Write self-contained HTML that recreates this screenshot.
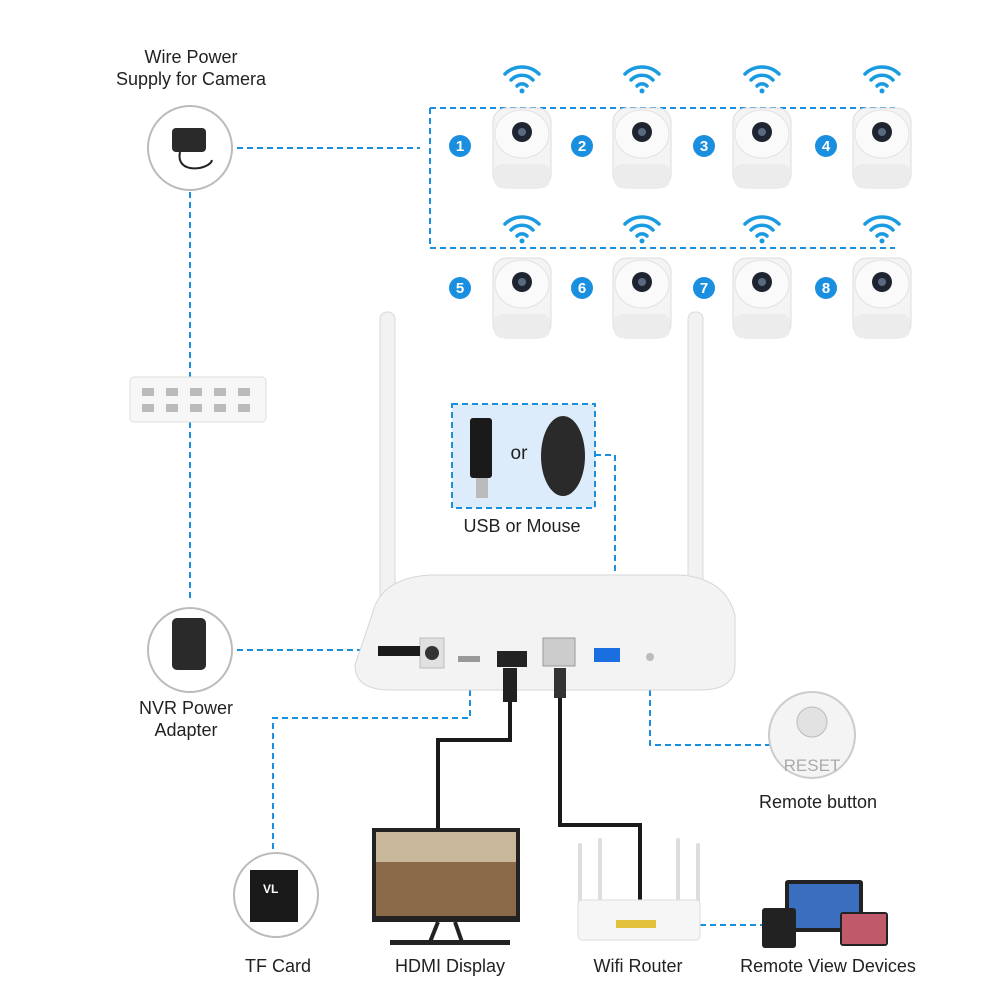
<!DOCTYPE html>
<html><head><meta charset="utf-8"><style>
html,body{margin:0;padding:0;background:#fff}
svg{display:block}
text{font-family:"Liberation Sans",sans-serif;fill:#222}
</style></head><body>
<svg width="1000" height="1000" viewBox="0 0 1000 1000" xmlns="http://www.w3.org/2000/svg">
<defs>
<g id="cam">
  <rect x="-29" y="-38" width="58" height="80" rx="14" fill="#f4f4f4" stroke="#ddd"/>
  <ellipse cx="0" cy="-12" rx="27" ry="24" fill="#fafafa" stroke="#e2e2e2"/>
  <circle cx="0" cy="-14" r="10" fill="#1e2530"/>
  <circle cx="0" cy="-14" r="4" fill="#5a6a80"/>
  <rect x="-28" y="18" width="56" height="24" rx="8" fill="#ececec"/>
</g>
<g id="wifi" fill="none" stroke="#1a9ae0" stroke-width="3.5" stroke-linecap="round">
  <path d="M-17,-6 A24,24 0 0 1 17,-6"/>
  <path d="M-11,0 A15,15 0 0 1 11,0"/>
  <path d="M-5,6 A7,7 0 0 1 5,6"/>
  <circle cx="0" cy="11" r="2.5" fill="#1a9ae0" stroke="none"/>
</g>
</defs>
<g fill="none" stroke="#1a8fe0" stroke-width="2" stroke-dasharray="6,4">
  <path d="M237,148 H420"/>
  <path d="M190,192 V600"/>
  <path d="M430,108 H895 M430,108 V248 H895"/>
  <path d="M237,650 H400"/>
  <path d="M470,690 V718 H273 V850"/>
  <path d="M595,455 H615 V650"/>
  <path d="M650,670 V745 H770"/>
  <path d="M690,925 H762"/>
</g>
<text x="191" y="63" font-size="18" text-anchor="middle">Wire Power</text>
<text x="191" y="85" font-size="18" text-anchor="middle">Supply for Camera</text>
<circle cx="190" cy="148" r="42" fill="#fff" stroke="#bbb" stroke-width="2"/>
<rect x="172" y="128" width="34" height="24" rx="4" fill="#2a2a2a"/>
<path d="M180,152 C175,175 210,170 212,160" stroke="#222" fill="none" stroke-width="2"/>
<!-- cameras -->
<g>
<use href="#wifi" x="522" y="80"/><use href="#wifi" x="642" y="80"/><use href="#wifi" x="762" y="80"/><use href="#wifi" x="882" y="80"/>
<use href="#wifi" x="522" y="230"/><use href="#wifi" x="642" y="230"/><use href="#wifi" x="762" y="230"/><use href="#wifi" x="882" y="230"/>
<use href="#cam" x="522" y="146"/><use href="#cam" x="642" y="146"/><use href="#cam" x="762" y="146"/><use href="#cam" x="882" y="146"/>
<use href="#cam" x="522" y="296"/><use href="#cam" x="642" y="296"/><use href="#cam" x="762" y="296"/><use href="#cam" x="882" y="296"/>
</g>
<g font-size="15" font-weight="bold" text-anchor="middle">
<circle cx="460" cy="146" r="11" fill="#1a8fe0"/><text x="460" y="151" fill="#fff" style="fill:#fff">1</text>
<circle cx="582" cy="146" r="11" fill="#1a8fe0"/><text x="582" y="151" style="fill:#fff">2</text>
<circle cx="704" cy="146" r="11" fill="#1a8fe0"/><text x="704" y="151" style="fill:#fff">3</text>
<circle cx="826" cy="146" r="11" fill="#1a8fe0"/><text x="826" y="151" style="fill:#fff">4</text>
<circle cx="460" cy="288" r="11" fill="#1a8fe0"/><text x="460" y="293" style="fill:#fff">5</text>
<circle cx="582" cy="288" r="11" fill="#1a8fe0"/><text x="582" y="293" style="fill:#fff">6</text>
<circle cx="704" cy="288" r="11" fill="#1a8fe0"/><text x="704" y="293" style="fill:#fff">7</text>
<circle cx="826" cy="288" r="11" fill="#1a8fe0"/><text x="826" y="293" style="fill:#fff">8</text>
</g>
<!-- power strip -->
<rect x="130" y="377" width="136" height="45" rx="4" fill="#f7f7f7" stroke="#ddd"/>
<g fill="#bbb"><rect x="142" y="388" width="12" height="8"/><rect x="166" y="388" width="12" height="8"/><rect x="190" y="388" width="12" height="8"/><rect x="214" y="388" width="12" height="8"/><rect x="238" y="388" width="12" height="8"/>
<rect x="142" y="404" width="12" height="8"/><rect x="166" y="404" width="12" height="8"/><rect x="190" y="404" width="12" height="8"/><rect x="214" y="404" width="12" height="8"/><rect x="238" y="404" width="12" height="8"/></g>
<!-- antennas -->
<rect x="380" y="312" width="15" height="330" rx="7" fill="#f2f2f2" stroke="#d8d8d8"/>
<rect x="688" y="312" width="15" height="330" rx="7" fill="#f2f2f2" stroke="#d8d8d8"/>
<!-- usb box -->
<rect x="452" y="404" width="143" height="104" fill="#dcecfb" stroke="#1a8fe0" stroke-width="2" stroke-dasharray="6,4"/>
<rect x="470" y="418" width="22" height="60" rx="3" fill="#1a1a1a"/>
<rect x="476" y="478" width="12" height="20" fill="#bbb"/>
<text x="519" y="459" font-size="19" text-anchor="middle">or</text>
<ellipse cx="563" cy="456" rx="22" ry="40" fill="#2a2a2a"/>
<text x="522" y="532" font-size="18" text-anchor="middle">USB or Mouse</text>
<!-- NVR -->
<path d="M372,615 Q380,578 430,575 H680 Q725,578 735,615 V665 Q735,690 700,690 H390 Q355,690 355,665 Z" fill="#f3f3f3" stroke="#d6d6d6"/>
<rect x="420" y="638" width="24" height="30" fill="#e0e0e0" stroke="#bbb"/><circle cx="432" cy="653" r="7" fill="#333"/>
<rect x="378" y="646" width="42" height="10" fill="#1a1a1a"/>
<rect x="458" y="656" width="22" height="6" fill="#999"/>
<rect x="497" y="651" width="30" height="16" fill="#222"/>
<rect x="543" y="638" width="32" height="28" fill="#ccc" stroke="#999"/>
<rect x="594" y="648" width="26" height="14" fill="#1a6fe0"/>
<circle cx="650" cy="657" r="4" fill="#bbb"/>
<!-- cables -->
<path d="M510,668 V740 H438 V830" fill="none" stroke="#1a1a1a" stroke-width="4"/>
<rect x="503" y="668" width="14" height="34" fill="#222"/>
<path d="M560,668 V825 H640 V900" fill="none" stroke="#1a1a1a" stroke-width="4"/>
<rect x="554" y="668" width="12" height="30" fill="#333"/>
<!-- NVR power adapter -->
<circle cx="190" cy="650" r="42" fill="#fff" stroke="#bbb" stroke-width="2"/>
<rect x="172" y="618" width="34" height="52" rx="5" fill="#2a2a2a"/>
<text x="186" y="714" font-size="18" text-anchor="middle">NVR Power</text>
<text x="186" y="736" font-size="18" text-anchor="middle">Adapter</text>
<!-- reset -->
<circle cx="812" cy="735" r="43" fill="#f4f4f4" stroke="#ccc" stroke-width="2"/>
<circle cx="812" cy="722" r="15" fill="#e2e2e2" stroke="#bbb"/>
<text x="812" y="771" font-size="17" text-anchor="middle" style="fill:#aaa">RESET</text>
<text x="818" y="808" font-size="18" text-anchor="middle">Remote button</text>
<!-- TF card -->
<circle cx="276" cy="895" r="42" fill="#fff" stroke="#bbb" stroke-width="2"/>
<path d="M250,870 H298 V922 H250 Z" fill="#1a1a1a"/>
<text x="263" y="893" font-size="12" font-weight="bold" style="fill:#fff">VL</text>
<text x="278" y="972" font-size="18" text-anchor="middle">TF Card</text>
<!-- monitor -->
<rect x="372" y="828" width="148" height="94" fill="#222"/>
<rect x="376" y="832" width="140" height="84" fill="#8a6a48"/>
<rect x="376" y="832" width="140" height="30" fill="#c9b79a"/>
<path d="M438,922 L430,942 M455,922 L462,942" stroke="#222" stroke-width="4"/>
<rect x="390" y="940" width="120" height="5" fill="#222"/>
<text x="450" y="972" font-size="18" text-anchor="middle">HDMI Display</text>
<!-- router -->
<g stroke="#ddd" stroke-width="4" stroke-linecap="round"><path d="M580,845 V905 M600,840 V905 M678,840 V905 M698,845 V905"/></g>
<rect x="578" y="900" width="122" height="40" rx="4" fill="#f6f6f6" stroke="#ddd"/>
<rect x="616" y="920" width="40" height="8" fill="#e2c23a"/>
<text x="638" y="972" font-size="18" text-anchor="middle">Wifi Router</text>
<!-- devices -->
<rect x="785" y="880" width="78" height="52" rx="3" fill="#222"/>
<rect x="789" y="884" width="70" height="44" fill="#3a6fc0"/>
<rect x="762" y="908" width="34" height="40" rx="3" fill="#222"/>
<rect x="840" y="912" width="48" height="34" rx="3" fill="#222"/>
<rect x="842" y="914" width="44" height="30" fill="#c05a6a"/>
<text x="828" y="972" font-size="18" text-anchor="middle">Remote View Devices</text>
</svg>
</body></html>
